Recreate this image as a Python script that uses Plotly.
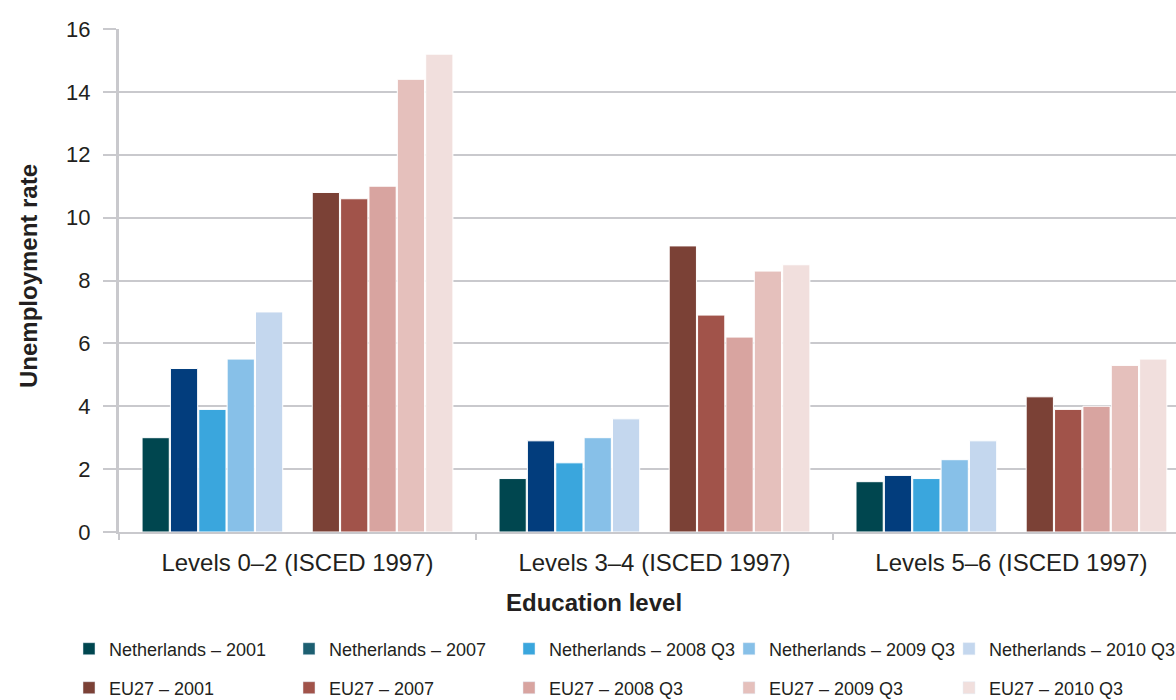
import plotly.graph_objects as go

# Education levels on the category axis
levels = ["Levels 0–2 (ISCED 1997)", "Levels 3–4 (ISCED 1997)", "Levels 5–6 (ISCED 1997)"]

# Unemployment rate (%) by education level
nl_2001 = [3.0, 1.7, 1.6]
nl_2007 = [5.2, 2.9, 1.8]
nl_2008q3 = [3.9, 2.2, 1.7]
nl_2009q3 = [5.5, 3.0, 2.3]
nl_2010q3 = [7.0, 3.6, 2.9]

eu_2001 = [10.8, 9.1, 4.3]
eu_2007 = [10.6, 6.9, 3.9]
eu_2008q3 = [11.0, 6.2, 4.0]
eu_2009q3 = [14.4, 8.3, 5.3]
eu_2010q3 = [15.2, 8.5, 5.5]

nl_names = ["Netherlands – 2001", "Netherlands – 2007", "Netherlands – 2008 Q3",
            "Netherlands – 2009 Q3", "Netherlands – 2010 Q3"]
eu_names = ["EU27 – 2001", "EU27 – 2007", "EU27 – 2008 Q3", "EU27 – 2009 Q3", "EU27 – 2010 Q3"]

nl_values = [nl_2001, nl_2007, nl_2008q3, nl_2009q3, nl_2010q3]
eu_values = [eu_2001, eu_2007, eu_2008q3, eu_2009q3, eu_2010q3]

nl_colors = ["#00464f", "#023d7d", "#3aa6dd", "#87c0e8", "#c4d7ee"]
nl_key_colors = ["#00464f", "#1d5f71", "#3aa6dd", "#87c0e8", "#c4d7ee"]
eu_colors = ["#7b4136", "#a1534a", "#d8a4a0", "#e5c0bc", "#f1dfdd"]

FONT = "Liberation Sans, Arial, sans-serif"
TEXT = "#231f20"
GRID = "#c9c9cd"

# plot area in pixels
L, T, B, W, H = 119, 29, 532, 1057, 503
KEY_X0, KEY_STEP = 69, 220
KEY_ROWS = [649, 688]


def px_x(x):
    return (x - L) / W


def px_y(y):
    return (B - y) / H


fig = go.Figure()


def add_bar(values, color):
    fig.add_trace(go.Bar(
        x=levels, y=values, showlegend=False,
        marker=dict(color=color, line=dict(color="white", width=1)),
        hoverinfo="x+y",
    ))


for vals, col in zip(nl_values, nl_colors):
    add_bar(vals, col)

# empty slot separating the Netherlands bars from the EU27 bars
fig.add_trace(go.Bar(x=levels, y=[0, 0, 0], showlegend=False, hoverinfo="skip",
                     marker=dict(color="rgba(0,0,0,0)", line=dict(width=0))))

for vals, col in zip(eu_values, eu_colors):
    add_bar(vals, col)

# Legend keys: one small legend per key, laid out as a 2 x 5 grid.
# Keys are drawn on a hidden overlay axis so they do not take bar slots.
legends = {}
n = 0
for row, (names, cols) in enumerate([(nl_names, nl_key_colors), (eu_names, eu_colors)]):
    for colidx, (name, col) in enumerate(zip(names, cols)):
        n += 1
        key = "legend" if n == 1 else f"legend{n}"
        fig.add_trace(go.Bar(x=[None], y=[None], name=name, xaxis="x2", yaxis="y2",
                             marker=dict(color=col), legend=key))
        legends[key] = dict(
            orientation="h", xref="paper", yref="paper",
            x=px_x(KEY_X0 + colidx * KEY_STEP), y=px_y(KEY_ROWS[row]),
            xanchor="left", yanchor="middle",
            font=dict(family=FONT, size=18, color=TEXT),
            bgcolor="rgba(0,0,0,0)", borderwidth=0,
        )

fig.update_layout(
    width=1176, height=700,
    margin=dict(l=L, r=0, t=T, b=700 - B, autoexpand=False),
    paper_bgcolor="white", plot_bgcolor="white",
    font=dict(family=FONT, color=TEXT),
    barmode="group", bargap=0.126, bargroupgap=0.04,
    showlegend=True,
    xaxis=dict(
        type="category", range=[-0.5, 2.461],
        showline=True, linecolor=GRID, linewidth=2,
        ticks="outside", tickson="boundaries", ticklen=6, tickcolor=GRID, tickwidth=2,
        tickfont=dict(family=FONT, size=24, color=TEXT),
        ticklabelstandoff=8,
        showgrid=False, zeroline=False,
    ),
    yaxis=dict(
        range=[0, 16], dtick=2, tick0=0,
        showline=True, linecolor=GRID, linewidth=3,
        ticks="outside", ticklen=13, tickcolor=GRID, tickwidth=2,
        tickfont=dict(family=FONT, size=22, color=TEXT),
        ticklabelstandoff=8,
        showgrid=True, gridcolor=GRID, gridwidth=2,
        zeroline=False,
    ),
    xaxis2=dict(overlaying="x", visible=False),
    yaxis2=dict(overlaying="y", visible=False),
    annotations=[
        dict(text="<b>Education level</b>", xref="paper", yref="paper",
             x=px_x(594), y=px_y(602), xanchor="center", yanchor="middle",
             showarrow=False, font=dict(family=FONT, size=24, color=TEXT)),
        dict(text="<b>Unemployment rate</b>", xref="paper", yref="paper",
             x=px_x(28), y=px_y(276), xanchor="center", yanchor="middle",
             textangle=-90, showarrow=False, font=dict(family=FONT, size=24, color=TEXT)),
    ],
    **legends,
)

fig.write_html("out.html")
